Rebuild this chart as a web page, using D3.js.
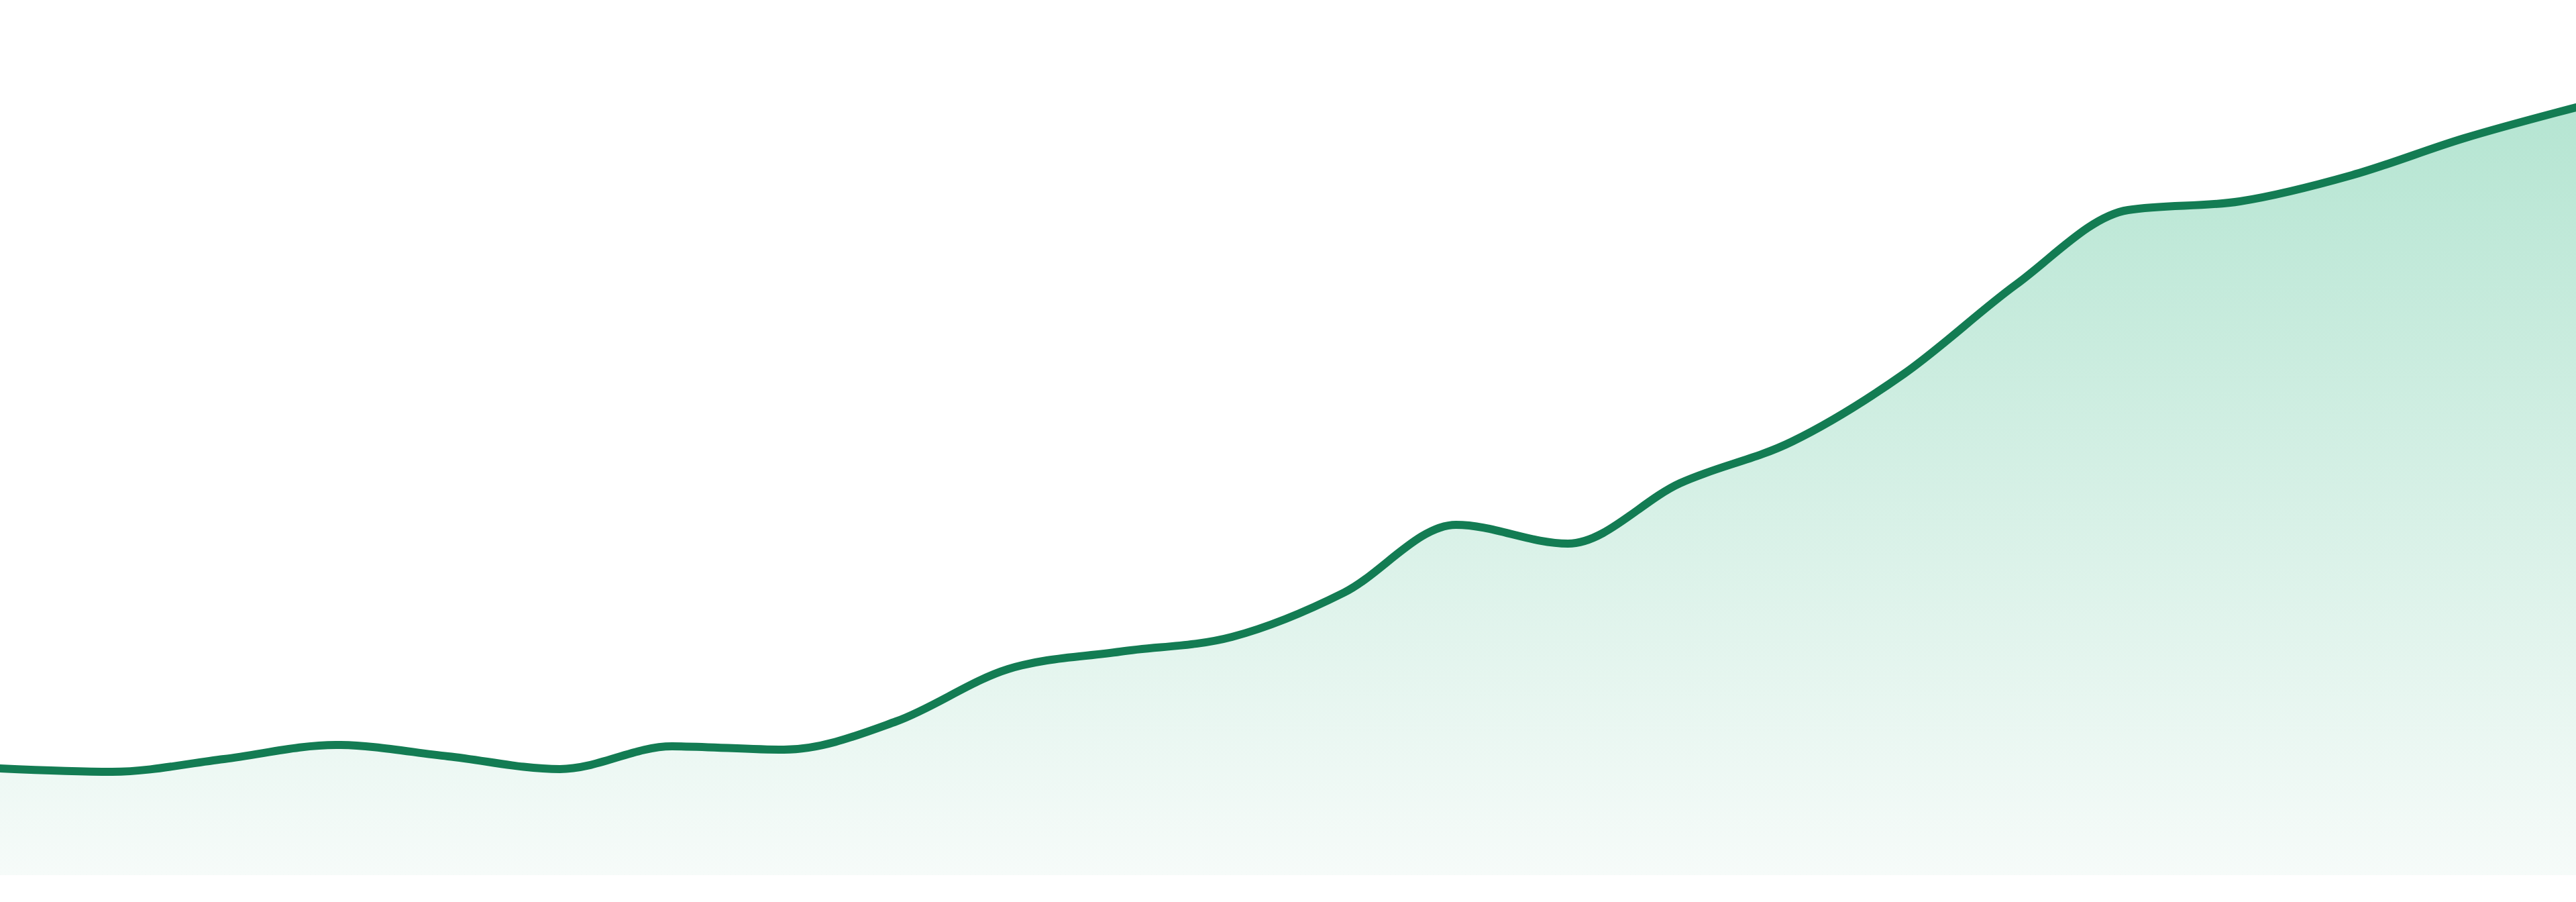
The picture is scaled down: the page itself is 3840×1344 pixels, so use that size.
<!DOCTYPE html>
<html>
<head>
<meta charset="utf-8">
<script src="https://cdn.jsdelivr.net/npm/d3@7"></script>
<style>
  html, body { margin: 0; padding: 0; background: #ffffff; overflow: hidden; }
  svg { display: block; }
</style>
</head>
<body>
<svg id="chart" width="3840" height="1344"></svg>
<script>
// Data (24 evenly spaced points, arbitrary units)
const categories = d3.range(1, 25).map(i => "P" + i);
const values = [15.9, 15.4, 17.3, 19.4, 17.7, 15.8, 19.2, 18.7, 22.9, 30.7, 33.3, 35.5,
                42.1, 52.2, 49.4, 58.4, 64.6, 74.7, 88.0, 99.1, 100.4, 104.3, 109.8, 114.4];
const yDomain = [0, 120];

const W = 3840, H = 1344;
const margin = { top: 104, right: 0, bottom: 40, left: 0 };

const svg = d3.select("#chart");

const x = d3.scalePoint()
  .domain(categories)
  .range([margin.left, W - margin.right]);

const y = d3.scaleLinear()
  .domain(yDomain)
  .range([H - margin.bottom, margin.top]);

const data = categories.map((c, i) => ({ c, v: values[i] }));

const defs = svg.append("defs");
const grad = defs.append("linearGradient")
  .attr("id", "fillGrad")
  .attr("gradientUnits", "userSpaceOnUse")
  .attr("x1", 0).attr("x2", 0)
  .attr("y1", y(d3.max(values)))
  .attr("y2", y(0));
grad.append("stop").attr("offset", "0%").attr("stop-color", "#b5e5d2");
grad.append("stop").attr("offset", "100%").attr("stop-color", "#f6fbf9");

const area = d3.area()
  .x(d => x(d.c))
  .y0(y(0))
  .y1(d => y(d.v))
  .curve(d3.curveMonotoneX);

const line = d3.line()
  .x(d => x(d.c))
  .y(d => y(d.v))
  .curve(d3.curveMonotoneX);

svg.append("path")
  .datum(data)
  .attr("d", area)
  .attr("fill", "url(#fillGrad)");

svg.append("path")
  .datum(data)
  .attr("d", line)
  .attr("fill", "none")
  .attr("stroke", "#137c53")
  .attr("stroke-width", 12)
  .attr("stroke-linejoin", "round")
  .attr("stroke-linecap", "round");
</script>
</body>
</html>
